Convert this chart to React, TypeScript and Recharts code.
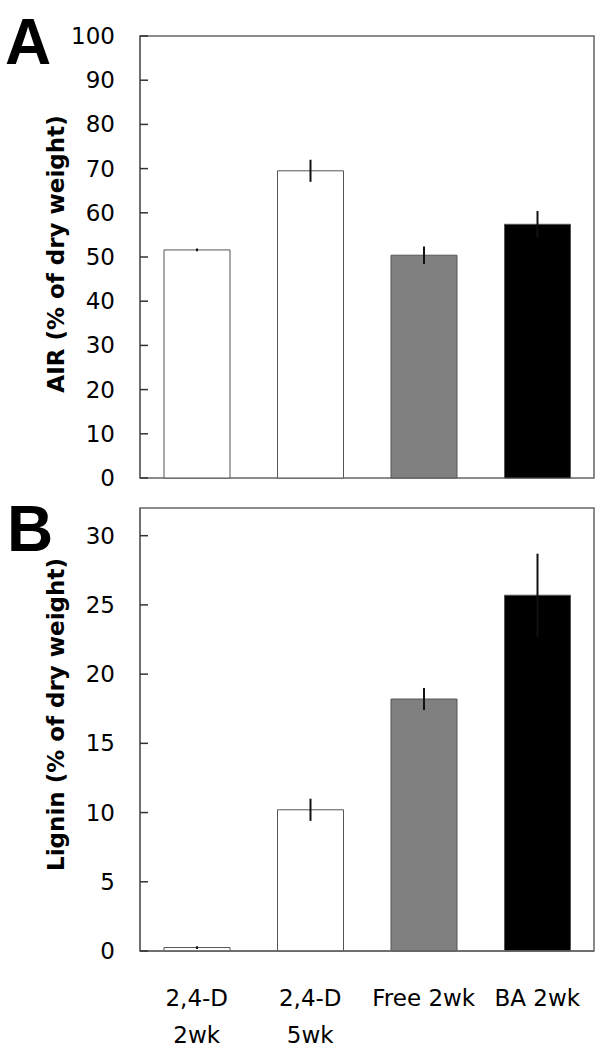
import { BarChart, Bar, XAxis, YAxis, ErrorBar, Cell, ReferenceArea } from "recharts";

const categories = ["2,4-D 2wk", "2,4-D 5wk", "Free 2wk", "BA 2wk"];
const categoryLines = [["2,4-D", "2wk"], ["2,4-D", "5wk"], ["Free 2wk"], ["BA 2wk"]];
const fills = ["#ffffff", "#ffffff", "#808080", "#000000"];

const airValues = [51.6, 69.5, 50.4, 57.4];
const airErrors = [0.3, 2.5, 2.0, 3.0];
const airTicks = [0, 10, 20, 30, 40, 50, 60, 70, 80, 90, 100];

const ligninValues = [0.25, 10.2, 18.2, 25.7];
const ligninErrors = [0.1, 0.8, 0.8, 3.0];
const ligninTicks = [0, 5, 10, 15, 20, 25, 30];

const FONT = "'DejaVu Sans', sans-serif";
const FRAME = "#666666";

const airData = categories.map((name, i) => ({ name, value: airValues[i], err: airErrors[i] }));
const ligninData = categories.map((name, i) => ({ name, value: ligninValues[i], err: ligninErrors[i] }));

function YTick(props: any) {
  const { x, y, payload } = props;
  return (
    <g>
      <line x1={x} x2={x + 8} y1={y} y2={y} stroke="#333" strokeWidth={1.5} />
      <text x={x - 25} y={y} dy={8} textAnchor="end" fontFamily={FONT} fontSize={23} fill="#000">
        {payload.value}
      </text>
    </g>
  );
}

function XTick(props: any) {
  const { x, y, index } = props;
  const lines = categoryLines[index] || [];
  return (
    <g>
      {lines.map((t, k) => (
        <text key={k} x={x} y={y + 55 + k * 37} textAnchor="middle" fontFamily={FONT} fontSize={23} fill="#000">
          {t}
        </text>
      ))}
    </g>
  );
}

function axisTitle(text: string, shift: number) {
  return ({ viewBox }: any) => {
    const cx = viewBox.x + 56;
    const cy = viewBox.y + viewBox.height / 2 + shift;
    return (
      <text
        x={cx}
        y={cy}
        transform={`rotate(-90 ${cx} ${cy})`}
        textAnchor="middle"
        dominantBaseline="central"
        fontFamily={FONT}
        fontWeight="bold"
        fontSize={23}
        fill="#000"
      >
        {text}
      </text>
    );
  };
}

interface PanelProps {
  data: { name: string; value: number; err: number }[];
  ticks: number[];
  domainMax: number;
  title: string;
  titleShift: number;
  height: number;
  marginTop: number;
  marginBottom: number;
  xHeight: number;
  showLabels: boolean;
}

function Panel(p: PanelProps) {
  return (
    <BarChart
      width={600}
      height={p.height}
      data={p.data}
      margin={{ top: p.marginTop, right: 6, bottom: p.marginBottom, left: 0 }}
    >
      <XAxis
        dataKey="name"
        height={p.xHeight}
        axisLine={{ stroke: FRAME, strokeWidth: 1.5 }}
        tickLine={false}
        tickSize={0}
        tickMargin={0}
        interval={0}
        tick={p.showLabels ? <XTick /> : false}
      />
      <YAxis
        width={140}
        domain={[0, p.domainMax]}
        ticks={p.ticks}
        interval={0}
        axisLine={{ stroke: FRAME, strokeWidth: 1.5 }}
        tickLine={false}
        tickSize={0}
        tickMargin={0}
        tick={<YTick />}
        label={{ content: axisTitle(p.title, p.titleShift) }}
      />
      <Bar dataKey="value" barSize={66} stroke="#555" strokeWidth={1} isAnimationActive={false}>
        {p.data.map((_, i) => (
          <Cell key={i} fill={fills[i]} />
        ))}
        <ErrorBar dataKey="err" width={0} stroke="#111" strokeWidth={2} />
      </Bar>
      <ReferenceArea y1={0} y2={p.domainMax} fill="none" fillOpacity={0} stroke={FRAME} strokeWidth={1.5} ifOverflow="visible" />
    </BarChart>
  );
}

const letterStyle: React.CSSProperties = {
  position: "absolute",
  fontFamily: "'Liberation Sans', Arial, sans-serif",
  fontWeight: "bold",
  fontSize: 64,
  lineHeight: 1,
};

export default function App() {
  return (
    <div style={{ position: "absolute", left: 0, top: 0, width: 600, height: 1050, background: "#fff" }}>
      <div style={{ position: "absolute", left: 0, top: 0 }}>
        <Panel data={airData} ticks={airTicks} domainMax={100} title="AIR (% of dry weight)" titleShift={-3} height={500} marginTop={36} marginBottom={22} xHeight={0} showLabels={false} />
      </div>
      <div style={{ position: "absolute", left: 0, top: 480 }}>
        <Panel data={ligninData} ticks={ligninTicks} domainMax={32} title="Lignin (% of dry weight)" titleShift={-15} height={570} marginTop={28} marginBottom={0} xHeight={99} showLabels={true} />
      </div>
      <div style={{ ...letterStyle, left: 5, top: 10 }}>A</div>
      <div style={{ ...letterStyle, left: 7, top: 497 }}>B</div>
    </div>
  );
}
